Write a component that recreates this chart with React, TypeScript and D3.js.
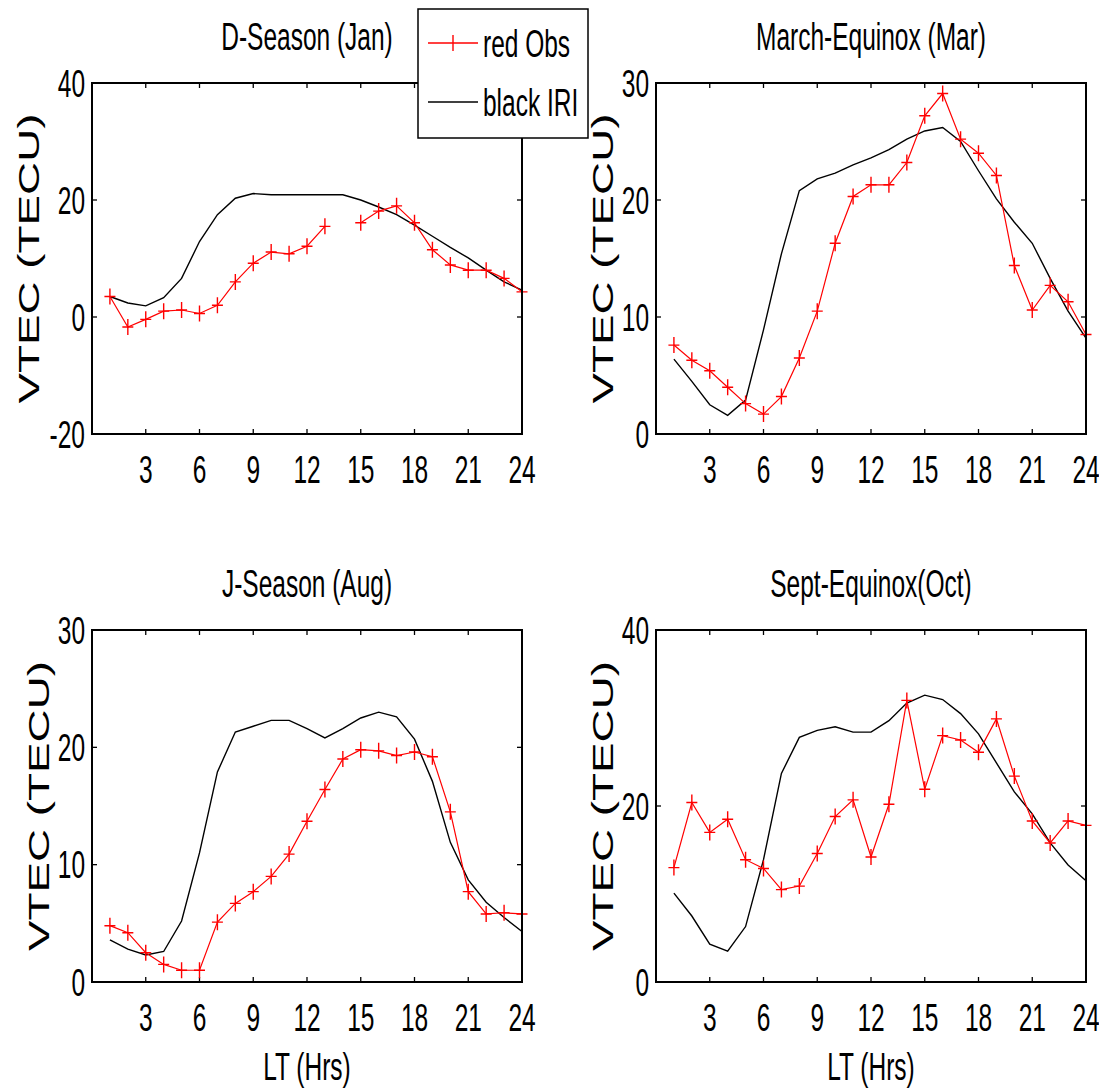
import React from "react";
import * as d3 from "d3";

const HOURS = [1, 2, 3, 4, 5, 6, 7, 8, 9, 10, 11, 12, 13, 14, 15, 16, 17, 18, 19, 20, 21, 22, 23, 24];
const X_TICKS = [3, 6, 9, 12, 15, 18, 21, 24];

const janObs: (number | null)[] = [3.5, -1.7, -0.4, 1.0, 1.2, 0.6, 2.0, 6.0, 9.2, 11.1, 10.8, 12.1, 15.5, null, 16.1, 18.1, 19.0, 16.1, 11.5, 8.9, 8.0, 8.0, 6.6, 4.3];
const janIri = [3.5, 2.4, 1.9, 3.3, 6.6, 12.9, 17.5, 20.3, 21.1, 20.9, 20.9, 20.9, 20.9, 20.9, 20.0, 18.8, 17.5, 15.7, 13.8, 11.9, 10.1, 8.0, 6.0, 4.6];

const marObs = [7.6, 6.3, 5.4, 4.0, 2.6, 1.7, 3.2, 6.5, 10.5, 16.3, 20.3, 21.3, 21.3, 23.2, 27.2, 29.1, 25.2, 24.0, 22.1, 14.4, 10.6, 12.7, 11.3, 8.5];
const marIri = [6.4, 4.5, 2.5, 1.6, 2.9, 8.9, 15.4, 20.8, 21.8, 22.3, 23.0, 23.6, 24.3, 25.2, 25.9, 26.2, 25.0, 22.5, 20.1, 18.1, 16.3, 13.3, 10.5, 8.2];

const augObs = [4.8, 4.2, 2.5, 1.5, 1.0, 1.0, 5.1, 6.7, 7.7, 9.0, 10.9, 13.7, 16.4, 19.0, 19.8, 19.7, 19.3, 19.6, 19.2, 14.5, 7.7, 5.8, 5.9, 5.8];
const augIri = [3.6, 2.8, 2.3, 2.6, 5.2, 11.0, 17.9, 21.3, 21.8, 22.3, 22.3, 21.6, 20.8, 21.6, 22.5, 23.0, 22.6, 20.7, 17.1, 11.9, 8.7, 6.8, 5.5, 4.3];

const octObs = [13.0, 20.4, 17.0, 18.5, 13.9, 12.9, 10.5, 10.9, 14.6, 18.8, 20.7, 14.2, 20.2, 32.0, 21.9, 28.0, 27.5, 26.1, 29.9, 23.4, 18.3, 15.8, 18.3, 17.8];
const octIri = [10.1, 7.5, 4.3, 3.5, 6.3, 13.9, 23.7, 27.8, 28.6, 29.0, 28.4, 28.4, 29.7, 31.7, 32.6, 32.1, 30.5, 28.2, 24.9, 21.6, 19.1, 15.8, 13.3, 11.5];

const TITLES = ["D-Season (Jan)", "March-Equinox (Mar)", "J-Season (Aug)", "Sept-Equinox(Oct)"];
const Y_DOMAINS: [number, number][] = [[-20, 40], [0, 30], [0, 30], [0, 40]];
const Y_TICKS = [[-20, 0, 20, 40], [0, 10, 20, 30], [0, 10, 20, 30], [0, 20, 40]];
const OBS = [janObs, marObs, augObs, octObs];
const IRI = [janIri, marIri, augIri, octIri];
const LEGEND_LABELS = ["red Obs", "black IRI"];

const FONT = "'Liberation Sans', Arial, sans-serif";
const SY = 1.6;
const FS = 24.5;

const PANELS = [
  { left: 92, top: 83, right: 522, bottom: 434, ylabelX: 39, showX: false },
  { left: 656, top: 83, right: 1086, bottom: 434, ylabelX: 613, showX: false },
  { left: 92, top: 630, right: 522, bottom: 982, ylabelX: 49, showX: true },
  { left: 656, top: 630, right: 1086, bottom: 982, ylabelX: 613, showX: true },
];

function SText({ x, y, anchor = "middle", children, size = FS }: any) {
  return (
    <text
      transform={`translate(${x},${y}) scale(1,${SY})`}
      textAnchor={anchor}
      dominantBaseline="central"
      fontFamily={FONT}
      fontSize={size}
      fill="#000"
    >
      {children}
    </text>
  );
}

function Panel({ idx }: { idx: number }) {
  const p = PANELS[idx];
  const x = d3.scaleLinear().domain([0, 24]).range([p.left, p.right]);
  const y = d3.scaleLinear().domain(Y_DOMAINS[idx]).range([p.bottom, p.top]);
  const obs = OBS[idx];
  const iri = IRI[idx];
  const line = d3
    .line<number | null>()
    .defined((d) => d !== null)
    .x((_, i) => x(HOURS[i]))
    .y((d) => y(d as number));
  const tl = 5;
  const cy = (p.top + p.bottom) / 2;
  const cx = (p.left + p.right) / 2;
  return (
    <g>
      <SText x={cx} y={p.top - 47}>{TITLES[idx]}</SText>
      {/* ticks */}
      {X_TICKS.map((t) => (
        <g key={"xt" + t}>
          <line x1={x(t)} x2={x(t)} y1={p.bottom} y2={p.bottom - tl} stroke="#000" strokeWidth={1.3} />
          <line x1={x(t)} x2={x(t)} y1={p.top} y2={p.top + tl} stroke="#000" strokeWidth={1.3} />
          <SText x={x(t)} y={p.bottom + 35}>{String(t)}</SText>
        </g>
      ))}
      {Y_TICKS[idx].map((t) => (
        <g key={"yt" + t}>
          <line x1={p.left} x2={p.left + tl} y1={y(t)} y2={y(t)} stroke="#000" strokeWidth={1.3} />
          <line x1={p.right} x2={p.right - tl} y1={y(t)} y2={y(t)} stroke="#000" strokeWidth={1.3} />
          <SText x={p.left - 7} y={y(t)} anchor="end">{String(t)}</SText>
        </g>
      ))}
      <path d={line(iri) || ""} fill="none" stroke="#000" strokeWidth={1.4} />
      <path d={line(obs) || ""} fill="none" stroke="#ff0000" strokeWidth={1.2} />
      {obs.map((d, i) =>
        d === null ? null : (
          <path
            key={"m" + i}
            d={`M${x(HOURS[i]) - 5.5},${y(d)}H${x(HOURS[i]) + 5.5}M${x(HOURS[i])},${y(d) - 8}V${y(d) + 8}`}
            stroke="#ff0000"
            strokeWidth={1.4}
          />
        )
      )}
      <rect x={p.left} y={p.top} width={p.right - p.left} height={p.bottom - p.top} fill="none" stroke="#000" strokeWidth={2} />
      <text
        transform={`translate(${p.ylabelX},${cy}) rotate(-90)`}
        textAnchor="middle"
        fontFamily={FONT}
        fontSize={29}
        textLength={290}
        lengthAdjust="spacingAndGlyphs"
        fill="#000"
      >
        VTEC (TECU)
      </text>
      {p.showX && <SText x={cx} y={p.bottom + 84}>LT (Hrs)</SText>}
    </g>
  );
}

export default function App() {
  return (
    <svg
      width={1099}
      height={1092}
      style={{ position: "absolute", left: 0, top: 0, background: "#fff" }}
    >
      <rect width={1099} height={1092} fill="#fff" />
      {[0, 1, 2, 3].map((i) => (
        <Panel key={i} idx={i} />
      ))}
      {/* legend */}
      <g>
        <rect x={418} y={9} width={170} height={129} fill="#fff" stroke="#000" strokeWidth={1.5} />
        <line x1={428} x2={478} y1={43} y2={43} stroke="#ff0000" strokeWidth={1.3} />
        <path d="M453,35V51" stroke="#ff0000" strokeWidth={1.4} />
        <SText x={483} y={43} anchor="start">{LEGEND_LABELS[0]}</SText>
        <line x1={428} x2={478} y1={102} y2={102} stroke="#000" strokeWidth={1.3} />
        <SText x={483} y={102} anchor="start">{LEGEND_LABELS[1]}</SText>
      </g>
    </svg>
  );
}
